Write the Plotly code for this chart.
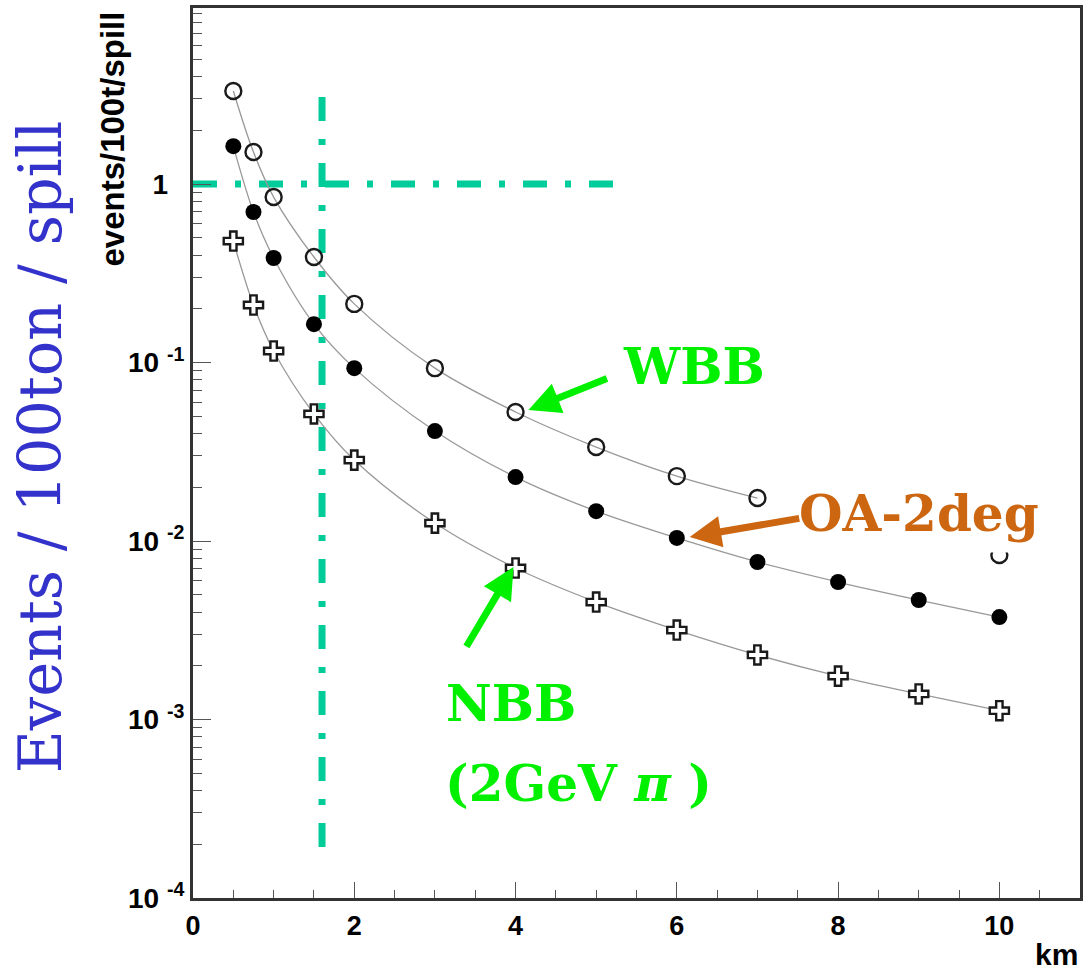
import numpy as np
import plotly.graph_objects as go

# ---------------- data ----------------
distance_km = [0.5, 0.75, 1.0, 1.5, 2, 3, 4, 5, 6, 7, 8, 9, 10]
wbb_x = [0.5, 0.75, 1.0, 1.5, 2, 3, 4, 5, 6, 7, 10]
wbb_y = [3.32, 1.51, 0.845, 0.39, 0.213, 0.093, 0.0528, 0.0336, 0.0231, 0.0174, 0.00835]
oa_y = [1.63, 0.697, 0.385, 0.164, 0.093, 0.0413, 0.0228, 0.0147, 0.0104,
        0.00763, 0.00589, 0.00467, 0.00375]
nbb_y = [0.479, 0.210, 0.116, 0.0515, 0.0284, 0.0126, 0.00706, 0.00455, 0.00317,
         0.0023, 0.00175, 0.00139, 0.00112]

# reference guide lines (1 event / 100t / spill, ~1.6 km)
guide_rate = 1.0
guide_rate_xmax = 5.3
guide_dist = 1.6
guide_dist_ymin = 1.7e-4
guide_dist_ymax = 3.07

y_major = [1e-4, 1e-3, 1e-2, 1e-1, 1]
y_major_text = ["10\u00a0<sup>-4</sup>", "10\u00a0<sup>-3</sup>", "10\u00a0<sup>-2</sup>",
                "10\u00a0<sup>-1</sup>", "1<sup>\u00a0\u00a0\u00a0</sup>"]
x_major = [0, 2, 4, 6, 8, 10]

# ---------------- styles ----------------
TEAL = "#00CC99"
GREEN = "#00F000"
ORANGE = "#CC6611"
BLUE = "#3333CC"
CURVE = "#999999"
SERIF = "DejaVu Serif"
SANS = "Liberation Sans"

fig = go.Figure()

dashdot = "24px,18px,6px,18px"
fig.add_trace(go.Scatter(x=[0, guide_rate_xmax], y=[guide_rate, guide_rate], mode="lines",
                         line=dict(color=TEAL, width=7, dash=dashdot), hoverinfo="skip"))
fig.add_trace(go.Scatter(x=[guide_dist, guide_dist], y=[guide_dist_ymax, guide_dist_ymin],
                         mode="lines", line=dict(color=TEAL, width=7, dash=dashdot),
                         hoverinfo="skip"))

# smooth curves through the points
fig.add_trace(go.Scatter(x=wbb_x[:-1], y=wbb_y[:-1], mode="lines",
                         line=dict(color=CURVE, width=1.3, shape="spline")))
fig.add_trace(go.Scatter(x=distance_km, y=oa_y, mode="lines",
                         line=dict(color=CURVE, width=1.3, shape="spline")))
fig.add_trace(go.Scatter(x=distance_km, y=nbb_y, mode="lines",
                         line=dict(color=CURVE, width=1.3, shape="spline")))

# markers
fig.add_trace(go.Scatter(x=wbb_x, y=wbb_y, mode="markers", name="WBB",
                         marker=dict(symbol="circle-open", size=16, color="#1a1a1a",
                                     line=dict(width=2.4, color="#1a1a1a"))))
fig.add_trace(go.Scatter(x=distance_km, y=oa_y, mode="markers", name="OA-2deg",
                         marker=dict(symbol="circle", size=16, color="black")))
fig.add_trace(go.Scatter(x=distance_km, y=nbb_y, mode="markers", name="NBB",
                         marker=dict(symbol="cross", size=16, color="white",
                                     line=dict(width=2.4, color="#1a1a1a"))))

L = np.log10
annotations = [
    # labels
    dict(x=6.21, y=L(0.0944), text="WBB", showarrow=False,
         font=dict(family=SERIF, size=50, color=GREEN, weight="bold")),
    dict(x=9.0, y=L(0.01435), text="OA-2deg", showarrow=False, bgcolor="white",
         borderpad=9,
         font=dict(family=SERIF, size=50, color=ORANGE, weight="bold")),
    dict(x=3.94, y=L(10 ** -2.913), text="NBB", showarrow=False,
         font=dict(family=SERIF, size=50, color=GREEN, weight="bold")),
    dict(x=4.78, y=L(10 ** -3.356), text="(2GeV <i>\u03c0</i> )", showarrow=False,
         font=dict(family=SERIF, size=50, color=GREEN, weight="bold")),
    # arrows
    dict(x=4.16, y=L(0.0542), ax=80, ay=-32, text="", showarrow=True,
         arrowhead=2, arrowsize=0.9, arrowwidth=7, arrowcolor=GREEN),
    dict(x=6.16, y=L(0.01052), ax=111, ay=-19, text="", showarrow=True,
         arrowhead=2, arrowsize=0.9, arrowwidth=7, arrowcolor=ORANGE),
    dict(x=3.975, y=L(10 ** -2.146), ax=-48, ay=81, text="", showarrow=True,
         arrowhead=2, arrowsize=0.9, arrowwidth=7, arrowcolor=GREEN),
    # titles
    dict(xref="paper", yref="paper", x=-0.172, y=0.507, xanchor="center", yanchor="middle",
         text="Events / 100ton / spill", textangle=-90, showarrow=False,
         font=dict(family=SERIF, size=59, color=BLUE)),
    dict(xref="paper", yref="paper", x=-0.091, y=0.998, xanchor="center", yanchor="top",
         text="events/100t/spill", textangle=-90, showarrow=False,
         font=dict(family=SANS, size=33, color="black", weight="bold")),
    dict(xref="paper", yref="paper", x=1.0, y=-0.064, xanchor="right", yanchor="middle",
         text="km", showarrow=False,
         font=dict(family=SANS, size=30, color="black", weight="bold")),
]

fig.update_layout(
    width=1088, height=975,
    margin=dict(l=193, r=5, t=8, b=77),
    paper_bgcolor="white", plot_bgcolor="white",
    showlegend=False,
    annotations=annotations,
    xaxis=dict(range=[0, 11], tickmode="array", tickvals=x_major,
               ticks="inside", ticklen=16, tickcolor="#555", tickwidth=1,
               minor=dict(dtick=0.5, tick0=0, ticks="inside", ticklen=8,
                          tickcolor="#555", tickwidth=1, showgrid=False),
               showgrid=False, zeroline=False,
               showline=True, linecolor="#333", linewidth=3, mirror=True,
               tickfont=dict(family=SANS, size=27, color="black", weight="bold"),
               ticklabelstandoff=2),
    yaxis=dict(type="log", range=[-4, 0.986], tickmode="array", tickvals=y_major,
               ticktext=y_major_text,
               ticks="inside", ticklen=18, tickcolor="#555", tickwidth=1,
               minor=dict(tickmode="array",
                          tickvals=[k * 10.0 ** e for e in range(-4, 1) for k in range(2, 10)],
                          ticks="inside", ticklen=9, tickcolor="#555", tickwidth=1,
                          showgrid=False),
               showgrid=False, zeroline=False,
               showline=True, linecolor="#333", linewidth=3, mirror=True,
               tickfont=dict(family=SANS, size=28, color="black", weight="bold")),
)

fig.write_html("out.html")
